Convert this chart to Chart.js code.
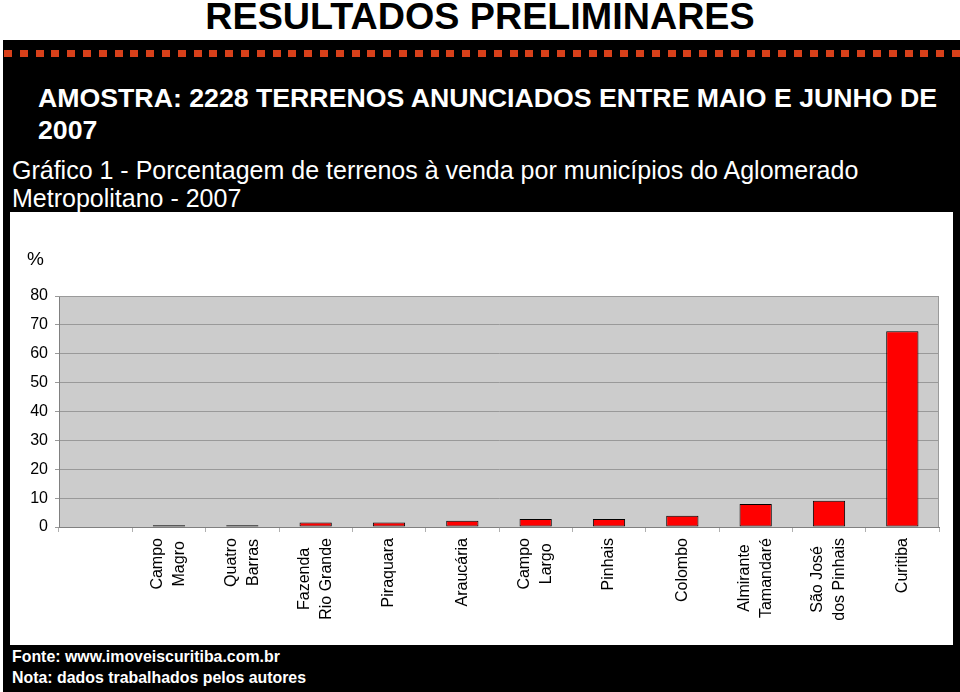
<!DOCTYPE html>
<html>
<head>
<meta charset="utf-8">
<script src="https://cdn.jsdelivr.net/npm/chart.js@4/dist/chart.umd.min.js"></script>
<style>
  html, body { margin: 0; padding: 0; background: #fff; }
  body { width: 960px; height: 692px; position: relative; overflow: hidden; font-family: "Liberation Sans", Arial, sans-serif; }
  .title { position: absolute; left: 0; top: -6px; width: 960px; text-align: center; font-weight: bold; font-size: 37.7px; line-height: 44px; color: #000; }
  .frame { position: absolute; left: 3px; top: 40px; width: 957px; height: 652px; background: #000; }
  .dashes { position: absolute; left: 4px; top: 50px; width: 956px; height: 7px;
    background: repeating-linear-gradient(to right, #d8401a 0 8px, transparent 8px 15.8px); }
  .amostra { position: absolute; left: 38px; top: 82px; color: #fff; font-weight: bold; font-size: 26.7px; line-height: 32px; width: 920px; }
  .grafico { position: absolute; left: 12px; top: 156px; color: #fff; font-size: 25px; line-height: 28px; width: 940px; }
  .panel { position: absolute; left: 10px; top: 212px; width: 943px; height: 433px; background: #fff; }
  .pct { position: absolute; left: 27px; top: 248px; font-size: 19px; color: #000; }
  .foot { position: absolute; left: 12px; top: 646px; color: #fff; font-weight: bold; font-size: 15.9px; line-height: 21px; }
</style>
</head>
<body>
<div class="title">RESULTADOS PRELIMINARES</div>
<div class="frame"></div>
<div class="dashes"></div>
<div class="amostra">AMOSTRA: 2228 TERRENOS ANUNCIADOS ENTRE MAIO E JUNHO DE<br>2007</div>
<div class="grafico">Gráfico 1 - Porcentagem de terrenos à venda por municípios do Aglomerado<br>Metropolitano - 2007</div>
<div class="panel"><canvas id="chart" width="943" height="433"></canvas></div>
<div class="pct">%</div>
<div class="foot">Fonte: www.imoveiscuritiba.com.br<br>Nota: dados trabalhados pelos autores</div>

<script>
// municípios (first slot is empty in the original chart)
const municipios = [
    '',
    ['Campo', 'Magro'],
    ['Quatro', 'Barras'],
    ['Fazenda', 'Rio Grande'],
    'Piraquara',
    'Araucária',
    ['Campo', 'Largo'],
    'Pinhais',
    'Colombo',
    ['Almirante', 'Tamandaré'],
    ['São José', 'dos Pinhais'],
    'Curitiba'
];

// porcentagem de terrenos (%)
const porcentagem = [null, 0.6, 0.6, 1.6, 1.6, 2.2, 2.8, 2.8, 3.9, 8.0, 9.1, 67.8];

const yTicks = [0, 10, 20, 30, 40, 50, 60, 70, 80];

// fundo cinza + borda superior/direita da área do gráfico
const plotBackground = {
    id: 'plotBackground',
    beforeDraw(chart) {
        const { ctx, chartArea: a } = chart;
        ctx.save();
        ctx.fillStyle = '#cccccc';
        ctx.fillRect(a.left, a.top, a.right - a.left, a.bottom - a.top);
        ctx.restore();
    },
    afterDatasetsDraw(chart) {
        const { ctx, chartArea: a } = chart;
        ctx.save();
        ctx.strokeStyle = '#9a9a9a';
        ctx.lineWidth = 1;
        ctx.beginPath();
        ctx.moveTo(a.left, a.top + 0.5);
        ctx.lineTo(a.right - 0.5, a.top + 0.5);
        ctx.lineTo(a.right - 0.5, a.bottom);
        ctx.stroke();
        ctx.restore();
    }
};

// rótulos verticais: bloco alinhado no topo, linhas centradas entre si
const verticalLabels = {
    id: 'verticalLabels',
    afterDraw(chart) {
        const { ctx } = chart;
        const x = chart.scales.x;
        const lh = 22;
        ctx.save();
        ctx.fillStyle = '#000';
        ctx.font = '16px "Liberation Sans", Arial, sans-serif';
        ctx.textAlign = 'center';
        ctx.textBaseline = 'middle';
        chart.data.labels.forEach((lab, i) => {
            const lines = Array.isArray(lab) ? lab : [lab];
            const w = Math.max(...lines.map(t => ctx.measureText(t).width));
            const px = x.getPixelForValue(i);
            ctx.save();
            ctx.translate(px, x.top + 11 + w / 2);
            ctx.rotate(-Math.PI / 2);
            lines.forEach((t, j) => {
                ctx.fillText(t, 0, (j - (lines.length - 1) / 2) * lh);
            });
            ctx.restore();
        });
        ctx.restore();
    }
};

const ctx = document.getElementById('chart').getContext('2d');

new Chart(ctx, {
    type: 'bar',
    data: {
        labels: municipios,
        datasets: [{
            label: '%',
            data: porcentagem,
            backgroundColor: '#ff0000',
            borderColor: '#000000',
            borderWidth: 1,
            borderSkipped: false,
            barPercentage: 0.44,
            categoryPercentage: 1
        }]
    },
    options: {
        responsive: false,
        animation: false,
        layout: { padding: { top: 84, right: 14, left: 0, bottom: 0 } },
        plugins: {
            legend: { display: false },
            tooltip: { enabled: false }
        },
        scales: {
            x: {
                offset: true,
                border: { color: '#808080', width: 1 },
                grid: {
                    offset: true,
                    drawOnChartArea: false,
                    drawTicks: true,
                    tickLength: 5,
                    color: '#b0b0b0'
                },
                ticks: { display: false },
                afterFit(scale) { scale.height = 118; }
            },
            y: {
                min: 0,
                max: 80,
                afterBuildTicks(scale) { scale.ticks = yTicks.map(v => ({ value: v })); },
                border: { color: '#808080', width: 1 },
                grid: {
                    color: '#999999',
                    lineWidth: 1,
                    drawTicks: true,
                    tickLength: 4
                },
                ticks: {
                    color: '#000',
                    padding: 7,
                    font: { family: '"Liberation Sans", Arial', size: 16 }
                },
                afterFit(scale) { scale.width = 49; }
            }
        }
    },
    plugins: [plotBackground, verticalLabels]
});
</script>
</body>
</html>
